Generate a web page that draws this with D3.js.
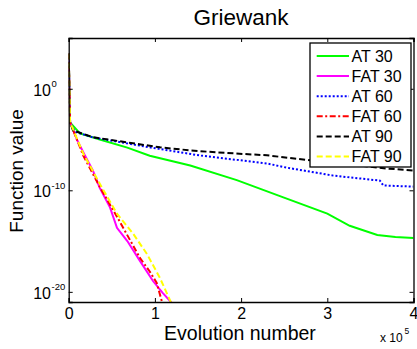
<!DOCTYPE html>
<html>
<head>
<meta charset="utf-8">
<script src="https://cdn.jsdelivr.net/npm/d3@7"></script>
<style>
  body { margin: 0; background: #fff; }
  svg { display: block; font-family: "Liberation Sans", Arial, sans-serif; }
</style>
</head>
<body>
<div class="chart"></div>
<script>

// evolution number (x) and function value (y)

const at30X = [0, 1600, 13000, 36000, 68000, 94000, 141000, 195000, 249000, 300000, 326000, 358000, 379000, 400000];
const at30Y = [3e3, 5e-4, 4e-5, 1e-5, 1.6e-6, 2.5e-7, 2.8e-8, 1e-9, 2e-11, 5e-13, 3.2e-14, 4e-15, 2.5e-15, 2e-15];

const fat30X = [0, 1600, 10000, 19000, 28000, 36000, 48000, 56000, 68000, 83000, 98000, 109000, 121000];
const fat30Y = [3e3, 5e-4, 8e-6, 2.5e-7, 9e-9, 1.8e-10, 2e-12, 2e-14, 1e-15, 1e-17, 1.1e-19, 8e-21, 6e-22];

const at60X = [0, 1600, 7000, 28000, 68000, 94000, 152000, 230000, 253000, 307000, 361000, 365000, 400000];
const at60Y = [3e3, 5e-4, 6e-5, 1.6e-5, 4.2e-6, 1.7e-6, 2.7e-7, 4.4e-8, 1.7e-8, 2.8e-9, 9e-10, 3e-10, 2.3e-10];

const fat60X = [0, 1600, 17000, 36000, 56000, 83000, 94000, 102000, 108000, 110000];
const fat60Y = [3e3, 5e-4, 2.5e-7, 2.2e-10, 2.5e-13, 2e-17, 1e-18, 8e-20, 1.2e-21, 4e-22];

const at90X = [0, 1600, 5000, 28000, 68000, 106000, 141000, 172000, 230000, 280000, 326000, 369000, 400000];
const at90Y = [3e3, 5e-4, 8e-5, 1.7e-5, 5.2e-6, 1.7e-6, 8.5e-7, 5.4e-7, 2.8e-7, 9e-8, 3.5e-8, 1.4e-8, 9e-9];

const fat90X = [0, 1600, 17000, 36000, 56000, 75000, 91000, 106000, 118000, 120000];
const fat90Y = [3e3, 5e-4, 4e-7, 4.5e-10, 5e-13, 5e-15, 5e-17, 2.2e-19, 1.2e-21, 4e-22];

const seriesNames = ['AT 30', 'FAT 30', 'AT 60', 'FAT 60', 'AT 90', 'FAT 90'];
const seriesColors = ['#00ff00', '#ff00ff', '#0000ff', '#ff0000', '#000000', '#ffff00'];
const seriesDash = [null, null, '2,2', '6,2.5,2,2.5', '6,3', '6,3'];

const xTicks = [0, 100000, 200000, 300000, 400000];
const yTicks = [1e-20, 1e-10, 1e0];
const yTickExp = ['-20', '-10', '0'];

const seriesX = [at30X, fat30X, at60X, fat60X, at90X, fat90X];
const seriesY = [at30Y, fat30Y, at60Y, fat60Y, at90Y, fat90Y];

const series = seriesNames.map((name, i) => ({
   name: name,
   color: seriesColors[i],
   dash: seriesDash[i],
   points: seriesX[i].map((x, j) => ({x: x, y: seriesY[i][j]}))
}));

const width = 417;
const height = 349;
const plotLeft = 68.7, plotRight = 413.5, plotTop = 38, plotBottom = 302;

const svg = d3.select('.chart')
   .append('svg')
   .attr('width', width)
   .attr('height', height)
   .style('background-color', '#fff');

const xScale = d3.scaleLinear()
   .domain([0, 400000])
   .range([plotLeft, plotRight]);

const yScale = d3.scaleLog()
   .domain([1e-21, 1e5])
   .range([plotBottom, plotTop]);

svg.append('clipPath')
   .attr('id', 'plotclip')
   .append('rect')
      .attr('x', plotLeft)
      .attr('y', plotTop)
      .attr('width', plotRight - plotLeft)
      .attr('height', plotBottom - plotTop);

// lines
const line = d3.line()
   .x(d => xScale(d.x))
   .y(d => yScale(d.y));

svg.append('g')
   .attr('clip-path', 'url(#plotclip)')
   .selectAll('path')
   .data(series)
      .enter()
      .append('path')
         .attr('d', d => line(d.points))
         .attr('fill', 'none')
         .attr('stroke', d => d.color)
         .attr('stroke-width', 2)
         .attr('stroke-dasharray', d => d.dash);

// axes, ticks point inward on all four sides
const xAxis = d3.axisBottom(xScale)
   .tickValues(xTicks)
   .tickSize(-4)
   .tickPadding(6)
   .tickFormat(d => d / 100000);

const xTop = d3.axisTop(xScale).tickValues(xTicks).tickSize(-4).tickFormat('');
const yLeft = d3.axisLeft(yScale).tickValues(yTicks).tickSize(-4).tickFormat('');
const yRight = d3.axisRight(yScale).tickValues(yTicks).tickSize(-4).tickFormat('');

const gx = svg.append('g')
   .attr('transform', `translate(0,${plotBottom})`)
   .call(xAxis);
gx.selectAll('text')
   .attr('font-size', 16)
   .attr('font-family', '"Liberation Sans", Arial, sans-serif')
   .attr('fill', '#000');

svg.append('g').attr('transform', `translate(0,${plotTop})`).call(xTop);
svg.append('g').attr('transform', `translate(${plotLeft},0)`).call(yLeft);
svg.append('g').attr('transform', `translate(${plotRight},0)`).call(yRight);

svg.selectAll('.domain').attr('stroke', '#000').attr('stroke-width', 1.3);
svg.selectAll('.tick line').attr('stroke', '#000');

// y tick labels 10^n
const yLabels = svg.append('g').selectAll('g')
   .data(yTicks)
   .enter()
   .append('g');

yLabels.append('text')
   .attr('x', 51)
   .attr('y', d => yScale(d) + 7)
   .attr('text-anchor', 'end')
   .attr('font-size', 16)
   .text('10');

yLabels.append('text')
   .attr('x', 51.5)
   .attr('y', d => yScale(d) - 1.5)
   .attr('font-size', 9.5)
   .text((d, i) => yTickExp[i]);

// x 10^5 multiplier
svg.append('text')
   .attr('x', 380)
   .attr('y', 342)
   .attr('font-size', 12)
   .text('x 10');
svg.append('text')
   .attr('x', 404.5)
   .attr('y', 333.5)
   .attr('font-size', 8.5)
   .text('5');

// titles
svg.append('text')
   .attr('x', 241)
   .attr('y', 25)
   .attr('text-anchor', 'middle')
   .attr('font-size', 22.5)
   .text('Griewank');

svg.append('text')
   .attr('x', 240)
   .attr('y', 340)
   .attr('text-anchor', 'middle')
   .attr('font-size', 19.5)
   .text('Evolution number');

svg.append('text')
   .attr('transform', 'translate(23,171) rotate(-90)')
   .attr('text-anchor', 'middle')
   .attr('font-size', 19)
   .text('Function value');

// legend
const legend = svg.append('g');

legend.append('rect')
   .attr('x', 310)
   .attr('y', 43)
   .attr('width', 101)
   .attr('height', 124)
   .attr('fill', '#fff')
   .attr('stroke', '#000')
   .attr('stroke-width', 1.3);

const items = legend.selectAll('.item')
   .data(series)
   .enter()
   .append('g')
      .classed('item', true)
      .attr('transform', (d, i) => `translate(0,${56 + i * 20.1})`);

items.append('line')
   .attr('x1', 316.7)
   .attr('x2', 349)
   .attr('stroke', d => d.color)
   .attr('stroke-width', 2)
   .attr('stroke-dasharray', d => d.dash);

items.append('text')
   .attr('x', 351.5)
   .attr('y', 5.5)
   .attr('font-size', 16)
   .text(d => d.name);

</script>
</body>
</html>
